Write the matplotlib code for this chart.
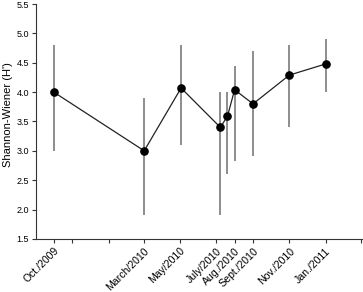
import matplotlib
matplotlib.use('Agg')
import matplotlib.pyplot as plt
import pandas as pd

plt.rcParams['font.family'] = ['Liberation Sans', 'DejaVu Sans']

# sampling dates and Shannon-Wiener values
dates = ['2009-10-01', '2010-03-02', '2010-05-03', '2010-07-08', '2010-07-20',
         '2010-08-01', '2010-09-01', '2010-11-01', '2011-01-01']
h_mean = [4.0, 3.0, 4.07, 3.4, 3.59, 4.04, 3.8, 4.29, 4.48]
h_low = [3.0, 1.9, 3.1, 1.9, 2.6, 2.82, 2.92, 3.4, 4.0]
h_high = [4.8, 3.9, 4.8, 4.0, 4.0, 4.45, 4.7, 4.8, 4.9]

tick_dates = ['2009-10-01', '2010-03-01', '2010-05-01', '2010-07-01', '2010-08-01',
              '2010-09-01', '2010-11-01', '2011-01-01']
tick_labels = ['Oct./2009', 'March/2010', 'May/2010', 'July/2010', 'Aug./2010',
               'Sept./2010', 'Nov./2010', 'Jan./2011']
extra_ticks = ['2009-11-01', '2010-01-01', '2011-03-01']

x = pd.to_datetime(dates)
err_lo = [m - l for m, l in zip(h_mean, h_low)]
err_hi = [h - m for m, h in zip(h_mean, h_high)]

fig = plt.figure(figsize=(3.63, 2.92), dpi=100)
ax = fig.add_axes([0.099, 0.182, 0.898, 0.804])

# grey bars without caps, then the line and the dots on top
ax.errorbar(x, h_mean, yerr=[err_lo, err_hi], fmt='none', ecolor='#7a7a7a',
            elinewidth=1.2, capsize=0, zorder=1)
ax.plot(x, h_mean, color='#222222', lw=0.9, zorder=2)
ax.plot(x, h_mean, 'o', color='black', ms=5.2, zorder=3)

ax.set_xlim(pd.Timestamp('2009-09-01'), pd.Timestamp('2011-03-03'))
ax.set_ylim(1.5, 5.5)
ax.set_yticks([1.5, 2.0, 2.5, 3.0, 3.5, 4.0, 4.5, 5.0, 5.5])
ax.yaxis.set_major_formatter(matplotlib.ticker.FormatStrFormatter('%.1f'))

ax.set_xticks(pd.to_datetime(tick_dates))
ax.set_xticklabels(tick_labels, rotation=45, ha='right', rotation_mode='anchor',
                   fontsize=7.6)
ax.set_xticks(pd.to_datetime(extra_ticks), minor=True)

ax.spines['top'].set_visible(False)
ax.spines['right'].set_visible(False)
for s in ['left', 'bottom']:
    ax.spines[s].set_linewidth(0.8)
    ax.spines[s].set_color('#333333')
ax.tick_params(axis='both', which='both', length=3, width=0.8, color='#333333', pad=2)
ax.tick_params(axis='y', labelsize=6.5)

ax.set_ylabel("Shannon-Wiener (H')", fontsize=8)
ax.yaxis.set_label_coords(-0.07, 0.53)

fig.savefig('out.png', dpi=100)
